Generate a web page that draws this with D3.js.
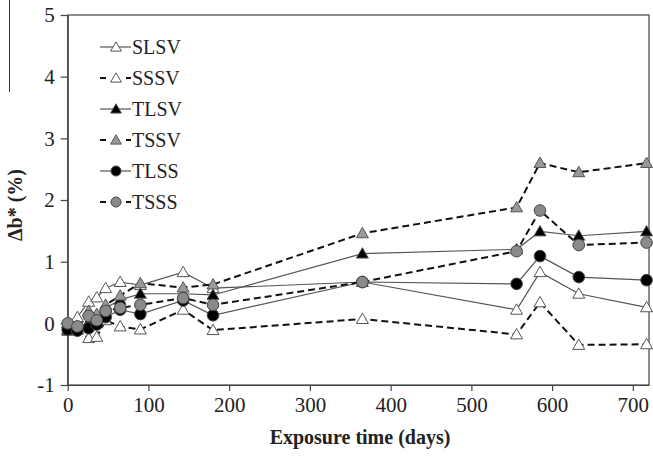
<!DOCTYPE html>
<html><head><meta charset="utf-8">
<script src="https://cdn.jsdelivr.net/npm/d3@7"></script>
<style>body{margin:0;background:#fff}svg{display:block}</style>
</head><body><svg id="c" width="653" height="456" font-family="Liberation Serif"></svg>
<script>
const days = [0, 12, 26, 36, 47, 65, 90, 143, 180, 365, 556, 585, 633, 717];
const SLSV = [0, 0.1, 0.35, 0.42, 0.57, 0.67, 0.62, 0.83, 0.57, 0.67, 0.22, 0.83, 0.48, 0.26];
const SSSV = [0, -0.1, -0.24, -0.22, 0.05, -0.05, -0.1, 0.22, -0.11, 0.07, -0.18, 0.34, -0.35, -0.34];
const TLSV = [-0.12, -0.1, 0.02, 0.08, 0.25, 0.38, 0.48, 0.48, 0.46, 1.13, 1.2, 1.49, 1.42, 1.49];
const TSSV = [-0.1, -0.05, 0.2, 0.15, 0.3, 0.45, 0.65, 0.58, 0.63, 1.46, 1.88, 2.6, 2.45, 2.6];
const TLSS = [-0.1, -0.12, -0.08, -0.02, 0.1, 0.22, 0.15, 0.37, 0.13, 0.67, 0.64, 1.09, 0.75, 0.70];
const TSSS = [0, -0.05, 0.12, 0.05, 0.2, 0.25, 0.3, 0.41, 0.3, 0.67, 1.17, 1.83, 1.27, 1.31];
const seriesNames = ["SLSV", "SSSV", "TLSV", "TSSV", "TLSS", "TSSS"];
const xTicks = [0, 100, 200, 300, 400, 500, 600, 700];
const yTicks = [-1, 0, 1, 2, 3, 4, 5];

const FONT = "Liberation Serif";
const styles = {
  SLSV: {dash: null, shape: "tri", fill: "#fff", lw: 1.2, lc: "#555"},
  SSSV: {dash: "7,4", shape: "tri", fill: "#fff", lw: 2, lc: "#111"},
  TLSV: {dash: null, shape: "tri", fill: "#000", lw: 1.2, lc: "#555"},
  TSSV: {dash: "7,4", shape: "tri", fill: "#999", lw: 2, lc: "#111"},
  TLSS: {dash: null, shape: "circ", fill: "#000", lw: 1.2, lc: "#555"},
  TSSS: {dash: "7,4", shape: "circ", fill: "#8a8a8a", lw: 2, lc: "#111"}
};
const data = {SLSV, SSSV, TLSV, TSSV, TLSS, TSSS};

const svg = d3.select("#c");
const x = d3.scaleLinear().domain([0, 720]).range([67.7, 649]);
const y = d3.scaleLinear().domain([-1, 5]).range([385, 15]);

svg.append("line").attr("x1", 9.5).attr("x2", 9.5).attr("y1", 0).attr("y2", 92).attr("stroke", "#333").attr("stroke-width", 1);

const ax = "#444";
svg.append("rect").attr("x", x(0)).attr("y", y(5)).attr("width", x(720) - x(0)).attr("height", y(-1) - y(5))
  .attr("fill", "none").attr("stroke", ax).attr("stroke-width", 1.2);

const xAxis = svg.append("g").attr("transform", `translate(0,${y(-1)})`)
  .call(d3.axisBottom(x).tickValues(xTicks).tickSize(6).tickSizeOuter(0).tickFormat(d3.format("d")));
const yAxis = svg.append("g").attr("transform", `translate(${x(0)},0)`)
  .call(d3.axisLeft(y).tickValues(yTicks).tickSize(7).tickSizeOuter(0).tickFormat(d3.format("d")));
[xAxis, yAxis].forEach(g => {
  g.attr("font-family", FONT);
  g.select(".domain").attr("stroke", ax).attr("stroke-width", 1.2);
  g.selectAll(".tick line").attr("stroke", ax).attr("stroke-width", 1.2);
  g.selectAll("text").attr("font-size", 21).attr("fill", "#222").attr("font-family", FONT);
});
xAxis.selectAll("text").attr("dy", "0.9em").attr("y", 8);
yAxis.selectAll("text").attr("x", -13).text(d => d < 0 ? "-" + Math.abs(d) : d);

svg.append("text").attr("x", 360).attr("y", 444).attr("text-anchor", "middle").attr("font-family", FONT).attr("font-size", 20).attr("font-weight", "bold").attr("fill", "#222").text("Exposure time (days)");
svg.append("text").attr("transform", "translate(22,205) rotate(-90)").attr("text-anchor", "middle").attr("font-family", FONT).attr("font-size", 20).attr("font-weight", "bold").attr("fill", "#222").text("Δb* (%)");

function marker(g, shape, fill, cx, cy) {
  if (shape === "tri") {
    g.append("path").attr("d", d3.symbol(d3.symbolTriangle, 62)()).attr("transform", `translate(${cx},${cy + 1})`)
      .attr("fill", fill).attr("stroke", "#555").attr("stroke-width", 1);
  } else {
    g.append("circle").attr("cx", cx).attr("cy", cy).attr("r", 5.8).attr("fill", fill).attr("stroke", "#444").attr("stroke-width", 1);
  }
}

const line = d3.line().x(d => x(d[0])).y(d => y(d[1]));
const plot = svg.append("g");
seriesNames.forEach(n => {
  const s = styles[n];
  const pts = days.map((d, i) => [d, data[n][i]]);
  plot.append("path").attr("d", line(pts)).attr("fill", "none").attr("stroke", s.lc).attr("stroke-width", s.lw)
    .attr("stroke-dasharray", s.dash);
});
seriesNames.forEach(n => {
  const s = styles[n];
  const g = plot.append("g");
  days.forEach((d, i) => marker(g, s.shape, s.fill, x(d), y(data[n][i])));
});

const lg = svg.append("g");
seriesNames.forEach((n, i) => {
  const s = styles[n];
  const cy = 47 + i * 31;
  lg.append("line").attr("x1", 100).attr("x2", 131).attr("y1", cy).attr("y2", cy).attr("stroke", s.lc).attr("stroke-width", s.lw)
    .attr("stroke-dasharray", s.dash ? "6,7" : null);
  if (s.shape === "tri") {
    lg.append("path").attr("d", d3.symbol(d3.symbolTriangle, 50)()).attr("transform", `translate(116,${cy + 1})`)
      .attr("fill", s.fill).attr("stroke", "#555").attr("stroke-width", 1);
  } else {
    lg.append("circle").attr("cx", 116).attr("cy", cy).attr("r", 5).attr("fill", s.fill).attr("stroke", "#444");
  }
  lg.append("text").attr("x", 132).attr("y", cy + 6.5).attr("font-family", FONT).attr("font-size", 20).attr("fill", "#222").text(n);
});
</script></body></html>
